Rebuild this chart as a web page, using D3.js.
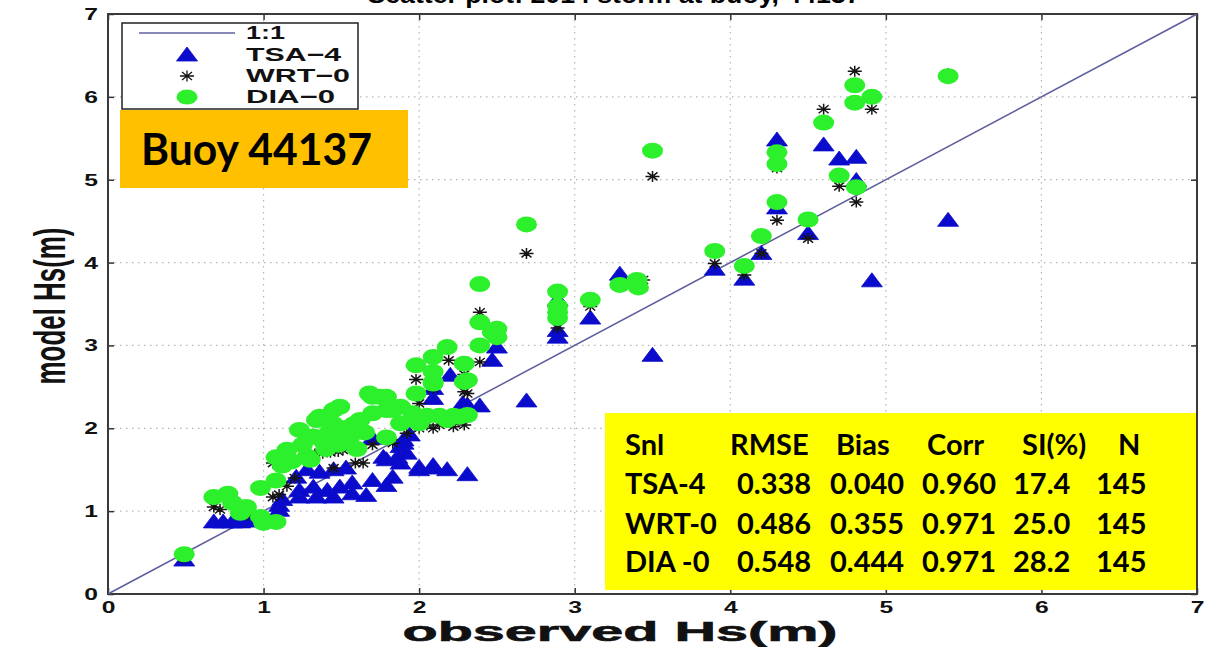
<!DOCTYPE html>
<html>
<head>
<meta charset="utf-8">
<script src="https://cdn.jsdelivr.net/npm/d3@7"></script>
<style>
  html, body { margin: 0; padding: 0; background: #fff; }
  svg { display: block; }
</style>
</head>
<body>
<svg id="chart" width="1206" height="647"></svg>
<script>
// Hs comparison at buoy 44137: [observed, model] pairs per source-term package
const tsa4Points = [
  [0.49,0.41],
  [0.68,0.87],[0.74,0.87],[0.80,0.87],[0.85,0.87],[0.90,0.88],
  [1.10,1.01],[1.10,1.07],[1.12,1.14],
  [1.21,1.41],[1.23,1.25],[1.23,1.17],[1.28,1.50],[1.32,1.29],[1.34,1.17],[1.36,1.47],
  [1.41,1.25],[1.45,1.17],[1.45,1.50],[1.49,1.29],[1.53,1.52],[1.57,1.34],[1.57,1.21],
  [1.66,1.19],[1.70,1.37],[1.70,1.88],[1.77,1.65],[1.79,1.31],[1.79,1.62],[1.83,1.41],
  [1.86,1.65],[1.88,1.58],[1.88,1.78],[1.90,1.86],[1.90,1.82],[1.92,1.70],[1.94,1.92],
  [2.00,1.50],[2.00,1.53],[2.09,1.52],[2.09,1.55],[2.18,1.50],[2.31,1.44],
  [2.09,2.36],[2.09,2.48],[2.20,2.64],[2.28,2.30],[2.31,2.28],[2.39,2.27],
  [2.47,2.82],[2.50,2.98],[2.69,2.33],[2.89,3.10],[2.89,3.18],[2.89,3.55],
  [3.10,3.33],[3.29,3.86],[3.50,2.88],[3.90,3.92],[4.09,3.80],[4.20,4.11],
  [4.30,4.66],[4.30,5.48],[4.50,4.35],[4.60,5.42],[4.70,5.25],[4.81,5.27],
  [4.81,4.99],[4.91,3.78],[5.40,4.51]
];
const wrt0Points = [
  [0.49,0.43],[0.68,1.05],[0.72,1.02],[0.90,0.95],[1.00,0.92],[1.06,1.17],[1.06,1.58],
  [1.10,1.20],[1.15,1.30],[1.20,1.40],[1.28,1.68],[1.33,1.69],[1.38,1.70],[1.43,1.71],
  [1.48,1.72],[1.51,1.74],[1.45,1.52],[1.57,1.86],[1.59,1.58],[1.64,1.58],[1.70,1.80],
  [1.83,1.82],[1.92,1.94],[1.98,2.59],[2.00,2.00],[2.00,2.30],[2.05,2.04],[2.09,2.00],
  [2.09,2.48],[2.13,2.04],[2.19,2.82],[2.22,2.02],[2.29,2.44],[2.29,2.04],[2.29,2.65],
  [2.31,2.42],[2.39,2.80],[2.39,3.40],[2.69,4.11],[2.89,3.21],[3.10,3.47],[3.44,3.79],
  [3.50,5.04],[3.90,3.99],[4.09,3.85],[4.20,4.11],[4.30,4.51],[4.30,5.14],[4.50,4.29],
  [4.60,5.85],[4.70,4.92],[4.81,4.73],[4.80,6.31],[4.91,5.85],[5.40,6.28]
];
const dia0Points = [
  [0.49,0.48],[0.68,1.17],[0.77,1.21],[0.80,1.10],[0.85,0.98],[0.89,1.05],[0.98,0.93],
  [0.98,1.28],[1.00,0.86],[1.08,0.87],[1.08,1.37],[1.08,1.65],[1.15,1.74],[1.12,1.55],
  [1.18,1.60],[1.23,1.98],[1.25,1.80],[1.28,1.66],[1.30,1.62],[1.32,1.90],[1.34,2.10],
  [1.36,2.14],[1.38,1.85],[1.40,1.75],[1.42,1.95],[1.45,2.05],[1.45,2.22],[1.49,2.26],
  [1.48,1.80],[1.50,1.85],[1.52,2.00],[1.55,1.88],[1.58,1.95],[1.58,2.05],[1.60,1.75],
  [1.62,2.10],[1.65,1.95],[1.68,2.42],[1.70,2.18],[1.70,2.38],[1.75,2.38],[1.79,2.38],
  [1.79,2.22],[1.79,1.89],[1.83,2.22],[1.88,2.26],[1.88,2.06],[1.96,2.18],[1.98,2.76],
  [1.98,2.42],[2.00,2.06],[2.05,2.15],[2.09,2.54],[2.09,2.86],[2.09,2.68],[2.09,2.56],
  [2.13,2.15],[2.18,2.98],[2.18,2.10],[2.22,2.15],[2.26,2.14],[2.29,2.78],[2.29,2.56],
  [2.31,2.58],[2.31,2.16],[2.39,3.74],[2.39,3.28],[2.39,3.00],[2.47,3.16],[2.50,3.20],
  [2.50,3.10],[2.69,4.46],[2.89,3.65],[2.89,3.47],[2.89,3.40],[2.89,3.33],[3.10,3.55],
  [3.29,3.73],[3.40,3.79],[3.41,3.70],[3.50,5.35],[3.90,4.14],[4.09,3.96],[4.20,4.32],
  [4.30,4.73],[4.30,5.19],[4.30,5.33],[4.50,4.52],[4.60,5.69],[4.70,5.05],[4.81,4.91],
  [4.80,6.14],[4.80,5.93],[4.91,6.00],[5.40,6.25]
];

const axisTicks = [0, 1, 2, 3, 4, 5, 6, 7];
const legendLabels = ["1:1", "TSA\u22124", "WRT\u22120", "DIA\u22120"];
const statHeader = ["Snl", "RMSE", "Bias", "Corr", "SI(%)", "N"];
const statRows = [
  ["TSA-4", "0.338", "0.040", "0.960", "17.4", "145"],
  ["WRT-0", "0.486", "0.355", "0.971", "25.0", "145"],
  ["DIA -0", "0.548", "0.444", "0.971", "28.2", "145"]
];
const titleText = "Scatter plot: 2014 storm at buoy, 44137";
const buoyLabel = "Buoy 44137";

const svg = d3.select("#chart");
const plot = { left: 108, right: 1197, top: 14, bottom: 594 };
const x = d3.scaleLinear().domain([0, 7]).range([plot.left, plot.right]);
const y = d3.scaleLinear().domain([0, 7]).range([plot.bottom, plot.top]);

const helv = "'Liberation Sans', Arial, Helvetica, sans-serif";
const blue = "#0b0bcc", green = "#2cf02c", starCol = "#151515", lineCol = "#5f5fa0";

// title (runs off the top edge)
svg.append("text")
  .attr("x", 614).attr("y", 3)
  .attr("text-anchor", "middle")
  .attr("font-family", helv).attr("font-weight", "bold").attr("font-size", 24)
  .attr("textLength", 493).attr("lengthAdjust", "spacingAndGlyphs")
  .text(titleText);

// dotted grid
const grid = svg.append("g").attr("stroke", "#b5b5b5").attr("stroke-width", 1.2)
  .attr("stroke-dasharray", "1.5,4.5");
grid.selectAll("line.gx").data(axisTicks.slice(1, -1)).join("line")
  .attr("class", "gx")
  .attr("x1", d => x(d)).attr("x2", d => x(d))
  .attr("y1", plot.top).attr("y2", plot.bottom);
grid.selectAll("line.gy").data(axisTicks.slice(1, -1)).join("line")
  .attr("class", "gy")
  .attr("y1", d => y(d)).attr("y2", d => y(d))
  .attr("x1", plot.left).attr("x2", plot.right);

// axes with inward ticks
function styleAxis(g) {
  g.select(".domain").remove();
  g.selectAll(".tick line").attr("stroke", "#333").attr("stroke-width", 1.5);
  g.selectAll(".tick text")
    .attr("font-family", helv).attr("font-weight", "bold").attr("font-size", 17)
    .attr("fill", "#111");
}
svg.append("g").attr("transform", `translate(0,${plot.bottom})`)
  .call(d3.axisBottom(x).tickValues(axisTicks).tickFormat(d3.format("d"))
    .tickSizeInner(-6).tickSizeOuter(0).tickPadding(7))
  .call(styleAxis)
  .call(g => g.selectAll(".tick text").attr("transform", "scale(1.45,1)"));
svg.append("g").attr("transform", `translate(0,${plot.top})`)
  .call(d3.axisTop(x).tickValues(axisTicks).tickFormat("").tickSizeInner(-6).tickSizeOuter(0))
  .call(styleAxis);
svg.append("g").attr("transform", `translate(${plot.left},0)`)
  .call(d3.axisLeft(y).tickValues(axisTicks).tickFormat(d3.format("d"))
    .tickSizeInner(-6).tickSizeOuter(0).tickPadding(7))
  .call(styleAxis)
  .call(g => g.selectAll(".tick text").attr("transform", "scale(1.45,1)"));
svg.append("g").attr("transform", `translate(${plot.right},0)`)
  .call(d3.axisRight(y).tickValues(axisTicks).tickFormat("").tickSizeInner(-6).tickSizeOuter(0))
  .call(styleAxis);

// frame
svg.append("rect")
  .attr("x", plot.left).attr("y", plot.top)
  .attr("width", plot.right - plot.left).attr("height", plot.bottom - plot.top)
  .attr("fill", "none").attr("stroke", "#3a3a3a").attr("stroke-width", 2);

// axis titles
svg.append("text")
  .attr("x", 620).attr("y", 641)
  .attr("text-anchor", "middle")
  .attr("font-family", helv).attr("font-weight", "bold").attr("font-size", 28)
  .attr("textLength", 435).attr("lengthAdjust", "spacingAndGlyphs")
  .attr("stroke", "#111").attr("stroke-width", 0.6)
  .attr("fill", "#111")
  .text("observed Hs(m)");
svg.append("text")
  .attr("transform", "translate(49,306) scale(1.5,1) rotate(-90)")
  .attr("text-anchor", "middle").attr("dy", "0.36em")
  .attr("font-family", helv).attr("font-weight", "bold").attr("font-size", 30)
  .attr("textLength", 157).attr("lengthAdjust", "spacingAndGlyphs")
  .attr("fill", "#111")
  .text("model Hs(m)");

// marker shapes
const triPath = "M0,-8L10.5,6H-10.5Z";
const starPath = "M-7,0H7M0,-5.5V5.5M-5,-4L5,4M-5,4L5,-4";

svg.append("clipPath").attr("id", "plotClip")
  .append("rect").attr("x", plot.left).attr("y", plot.top)
  .attr("width", plot.right - plot.left).attr("height", plot.bottom - plot.top);

const marks = svg.append("g").attr("clip-path", "url(#plotClip)");

// 1:1 reference line
marks.append("line")
  .attr("x1", x(0)).attr("y1", y(0)).attr("x2", x(7)).attr("y2", y(7))
  .attr("stroke", lineCol).attr("stroke-width", 1.6);

marks.append("g").selectAll("path").data(tsa4Points).join("path")
  .attr("transform", d => `translate(${x(d[0])},${y(d[1])})`)
  .attr("d", triPath).attr("fill", blue).attr("stroke", blue).attr("stroke-width", 0.8);

marks.append("g").selectAll("path").data(wrt0Points).join("path")
  .attr("transform", d => `translate(${x(d[0])},${y(d[1])})`)
  .attr("d", starPath).attr("fill", "none").attr("stroke", starCol).attr("stroke-width", 1.5);

marks.append("g").selectAll("ellipse").data(dia0Points).join("ellipse")
  .attr("cx", d => x(d[0])).attr("cy", d => y(d[1]))
  .attr("rx", 10.5).attr("ry", 8).attr("fill", green);

// legend
const legend = svg.append("g");
legend.append("rect").attr("x", 122).attr("y", 23).attr("width", 236).attr("height", 86)
  .attr("fill", "#fff").attr("stroke", "#222").attr("stroke-width", 1.5);
legend.append("line").attr("x1", 139).attr("x2", 235).attr("y1", 33).attr("y2", 33)
  .attr("stroke", lineCol).attr("stroke-width", 1.6);
legend.append("path").attr("transform", "translate(187,55)").attr("d", triPath)
  .attr("fill", blue).attr("stroke", blue).attr("stroke-width", 0.8);
legend.append("path").attr("transform", "translate(187,76)").attr("d", starPath)
  .attr("fill", "none").attr("stroke", starCol).attr("stroke-width", 1.3);
legend.append("ellipse").attr("cx", 187).attr("cy", 97).attr("rx", 10.5).attr("ry", 7.5)
  .attr("fill", green);
const legendWidths = [39, 95, 104, 89];
const legendBase = [39, 61, 82, 103];
legend.selectAll("text").data(legendLabels).join("text")
  .attr("x", 246).attr("y", (d, i) => legendBase[i])
  .attr("font-family", helv).attr("font-weight", "bold").attr("font-size", 19)
  .attr("textLength", (d, i) => legendWidths[i]).attr("lengthAdjust", "spacingAndGlyphs")
  .attr("fill", "#111")
  .text(d => d);

// station label
svg.append("rect").attr("x", 120).attr("y", 110).attr("width", 288).attr("height", 78)
  .attr("fill", "#ffc000");
svg.append("text").attr("x", 141).attr("y", 165)
  .attr("font-family", "Lato, 'Open Sans', sans-serif").attr("font-weight", "bold")
  .attr("font-size", 44)
  .attr("textLength", 231).attr("lengthAdjust", "spacingAndGlyphs")
  .attr("fill", "#000")
  .text(buoyLabel);

// statistics table
svg.append("rect").attr("x", 605).attr("y", 413).attr("width", 591).attr("height", 177)
  .attr("fill", "#ffff00");
const colX = [625, 730, 836, 927, 1022, 1118];
const rowColX = [625, 737, 830, 922, 1013, 1096];
const rowBase = [455, 494, 534, 572];
const tbl = svg.append("g")
  .attr("font-family", "Lato, 'Open Sans', sans-serif").attr("font-weight", "bold")
  .attr("font-size", 29).attr("fill", "#000");
tbl.selectAll("text.h").data(statHeader).join("text")
  .attr("class", "h")
  .attr("x", (d, i) => colX[i]).attr("y", rowBase[0])
  .text(d => d);
statRows.forEach((row, r) => {
  tbl.selectAll(`text.r${r}`).data(row).join("text")
    .attr("class", `r${r}`)
    .attr("x", (d, i) => rowColX[i]).attr("y", rowBase[r + 1])
    .text(d => d);
});
</script>
</body>
</html>
